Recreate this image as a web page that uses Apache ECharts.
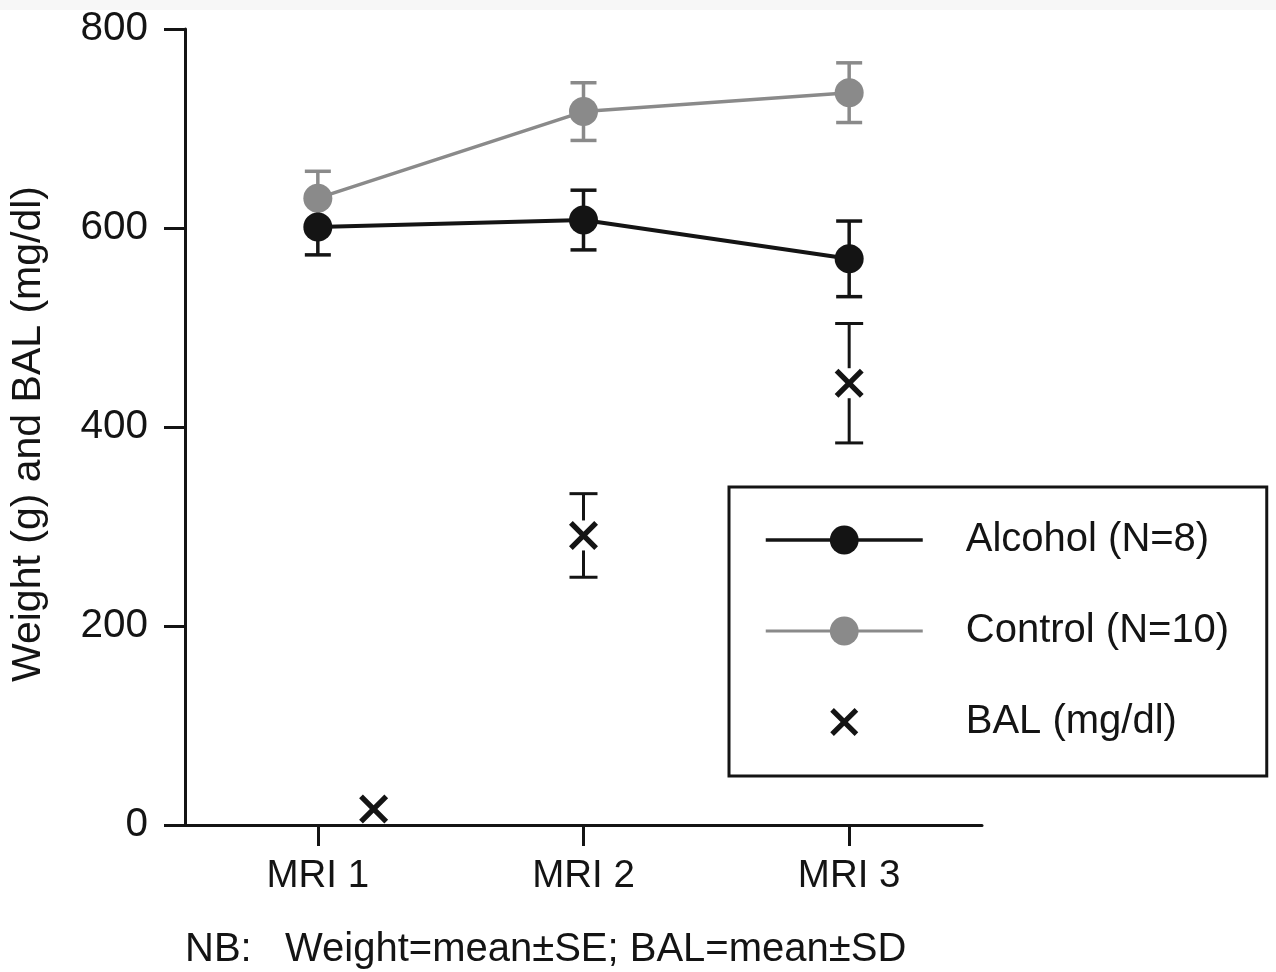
<!DOCTYPE html>
<html>
<head>
<meta charset="utf-8">
<script src="https://cdn.jsdelivr.net/npm/echarts@6/dist/echarts.min.js"></script>
<style>
  html, body { margin: 0; padding: 0; }
  #chart { width: 1276px; height: 972px; background: linear-gradient(#f7f7f7 0, #f7f7f7 10px, #ffffff 10px); }
</style>
</head>
<body>
<div id="chart"></div>
<script>
// ---- data ----
const categories = ['MRI 1', 'MRI 2', 'MRI 3'];
const yTicks = [0, 200, 400, 600, 800];
const alcoholMean = [601, 608, 569];
const alcoholSE = [28, 30, 38];
const controlMean = [630, 717, 736];
const controlSE = [27, 29, 30];
const balPos = [1.21, 2, 3];
const balMean = [16, 291, 444];
const balSD = [null, 42, 60];
const seriesNames = ['Alcohol (N=8)', 'Control (N=10)', 'BAL (mg/dl)'];
const footnote = 'NB:   Weight=mean±SE; BAL=mean±SD';
const yAxisName = 'Weight (g) and BAL (mg/dl)';

const FONT = 'Liberation Sans, Arial, Helvetica, sans-serif';
const BLACK = '#141414';
const GREY = '#8a8a8a';

// filled "X" glyph path (unit box 100x100), optionally placed inside a larger box
function crossPath(boxW, boxH, size) {
  const h = 13;
  const pts = [[0,h],[h,0],[50,50-h],[100-h,0],[100,h],[50+h,50],[100,100-h],[100-h,100],[50,50+h],[h,100],[0,100-h],[50-h,50]];
  const s = size / 100;
  const ox = (boxW - size) / 2, oy = (boxH - size) / 2;
  let d = 'path://';
  if (boxW !== size || boxH !== size) d += 'M0,0M' + boxW + ',' + boxH;
  pts.forEach((p, i) => {
    d += (i === 0 ? 'M' : 'L') + (ox + p[0] * s).toFixed(2) + ',' + (oy + p[1] * s).toFixed(2);
  });
  return d + 'Z';
}

function errData(xs, means, errs) {
  const out = [];
  for (let i = 0; i < means.length; i++) {
    if (errs[i] == null) continue;
    out.push([xs[i], means[i] - errs[i], means[i] + errs[i], means[i]]);
  }
  return out;
}

function errRender(color, capW, lw, gap) {
  return function (params, api) {
    const x = api.value(0);
    const lo = api.coord([x, api.value(1)]);
    const hi = api.coord([x, api.value(2)]);
    const mid = api.coord([x, api.value(3)]);
    const style = { stroke: color, lineWidth: lw, lineCap: 'butt' };
    const children = [
      { type: 'line', shape: { x1: hi[0] - capW / 2, y1: hi[1], x2: hi[0] + capW / 2, y2: hi[1] }, style },
      { type: 'line', shape: { x1: lo[0] - capW / 2, y1: lo[1], x2: lo[0] + capW / 2, y2: lo[1] }, style }
    ];
    if (gap > 0) {
      children.push({ type: 'line', shape: { x1: hi[0], y1: hi[1], x2: mid[0], y2: mid[1] - gap }, style });
      children.push({ type: 'line', shape: { x1: mid[0], y1: mid[1] + gap, x2: lo[0], y2: lo[1] }, style });
    } else {
      children.push({ type: 'line', shape: { x1: hi[0], y1: hi[1], x2: lo[0], y2: lo[1] }, style });
    }
    return { type: 'group', children };
  };
}

const chart = echarts.init(document.getElementById('chart'), null, { renderer: 'canvas' });

const option = {
  backgroundColor: 'transparent',
  animation: false,
  textStyle: { fontFamily: FONT },
  title: {
    text: footnote,
    left: 185,
    top: 930,
    padding: 0,
    textStyle: { fontFamily: FONT, fontSize: 40, fontWeight: 'normal', color: BLACK }
  },
  grid: { left: 185, right: 294, top: 29, bottom: 147, containLabel: false },
  legend: {
    orient: 'vertical',
    left: 729,
    top: 487,
    padding: [33, 35, 34, 35],
    itemWidth: 157,
    itemHeight: 36,
    itemGap: 51,
    borderColor: BLACK,
    borderWidth: 3,
    selectedMode: false,
    textStyle: { fontFamily: FONT, fontSize: 40, color: BLACK, lineHeight: 36, width: 266, padding: [0, 0, 0, 38] },
    data: [
      { name: seriesNames[0], lineStyle: { width: 3.5, color: BLACK } },
      { name: seriesNames[1], lineStyle: { width: 3, color: GREY } },
      {
        name: seriesNames[2],
        icon: crossPath(157, 36, 28),
        itemStyle: { color: BLACK, borderWidth: 0, opacity: 1 }
      }
    ]
  },
  xAxis: [
    {
      type: 'category',
      data: categories,
      boundaryGap: true,
      axisLine: { show: true, lineStyle: { color: BLACK, width: 3 } },
      axisTick: { show: true, alignWithLabel: true, length: 21, lineStyle: { color: BLACK, width: 3 } },
      axisLabel: { fontFamily: FONT, fontSize: 38.5, color: BLACK, margin: 32 },
      splitLine: { show: false }
    },
    {
      type: 'value',
      min: 0.5,
      max: 3.5,
      show: false,
      splitLine: { show: false }
    }
  ],
  yAxis: {
    type: 'value',
    min: 0,
    max: 800,
    interval: 200,
    name: yAxisName,
    nameLocation: 'middle',
    nameGap: 136,
    nameTextStyle: { fontFamily: FONT, fontSize: 41, color: BLACK, padding: [0, 14, 0, 0] },
    axisLine: { show: true, lineStyle: { color: BLACK, width: 3 } },
    axisTick: { show: true, length: 21, lineStyle: { color: BLACK, width: 3 } },
    axisLabel: {
      fontFamily: FONT, fontSize: 40.5, color: BLACK, margin: 37,
      formatter: function (v) { return yTicks.indexOf(v) >= 0 ? String(v) : ''; }
    },
    splitLine: { show: false }
  },
  series: [
    {
      name: 'alcoholErr',
      type: 'custom',
      xAxisIndex: 0,
      renderItem: errRender(BLACK, 26, 3.5, 0),
      data: errData([0, 1, 2], alcoholMean, alcoholSE),
      encode: { x: 0, y: [1, 2] },
      silent: true,
      z: 2
    },
    {
      name: 'controlErr',
      type: 'custom',
      xAxisIndex: 0,
      renderItem: errRender(GREY, 26, 3.5, 0),
      data: errData([0, 1, 2], controlMean, controlSE),
      encode: { x: 0, y: [1, 2] },
      silent: true,
      z: 2
    },
    {
      name: seriesNames[1],
      type: 'line',
      xAxisIndex: 0,
      data: controlMean,
      symbol: 'circle',
      symbolSize: 29,
      itemStyle: { color: GREY, borderWidth: 0 },
      lineStyle: { color: GREY, width: 3.5 },
      z: 3
    },
    {
      name: seriesNames[0],
      type: 'line',
      xAxisIndex: 0,
      data: alcoholMean,
      symbol: 'circle',
      symbolSize: 29,
      itemStyle: { color: BLACK, borderWidth: 0 },
      lineStyle: { color: BLACK, width: 4 },
      z: 4
    },
    {
      name: 'balErr',
      type: 'custom',
      xAxisIndex: 1,
      renderItem: errRender(BLACK, 28, 3, 15),
      data: errData(balPos, balMean, balSD),
      encode: { x: 0, y: [1, 2] },
      silent: true,
      z: 2
    },
    {
      name: seriesNames[2],
      type: 'scatter',
      xAxisIndex: 1,
      data: balPos.map((x, i) => [x, balMean[i]]),
      symbol: crossPath(100, 100, 100),
      symbolSize: 29,
      itemStyle: { color: BLACK, borderWidth: 0, opacity: 1 },
      z: 5
    }
  ]
};

chart.setOption(option);
</script>
</body>
</html>
